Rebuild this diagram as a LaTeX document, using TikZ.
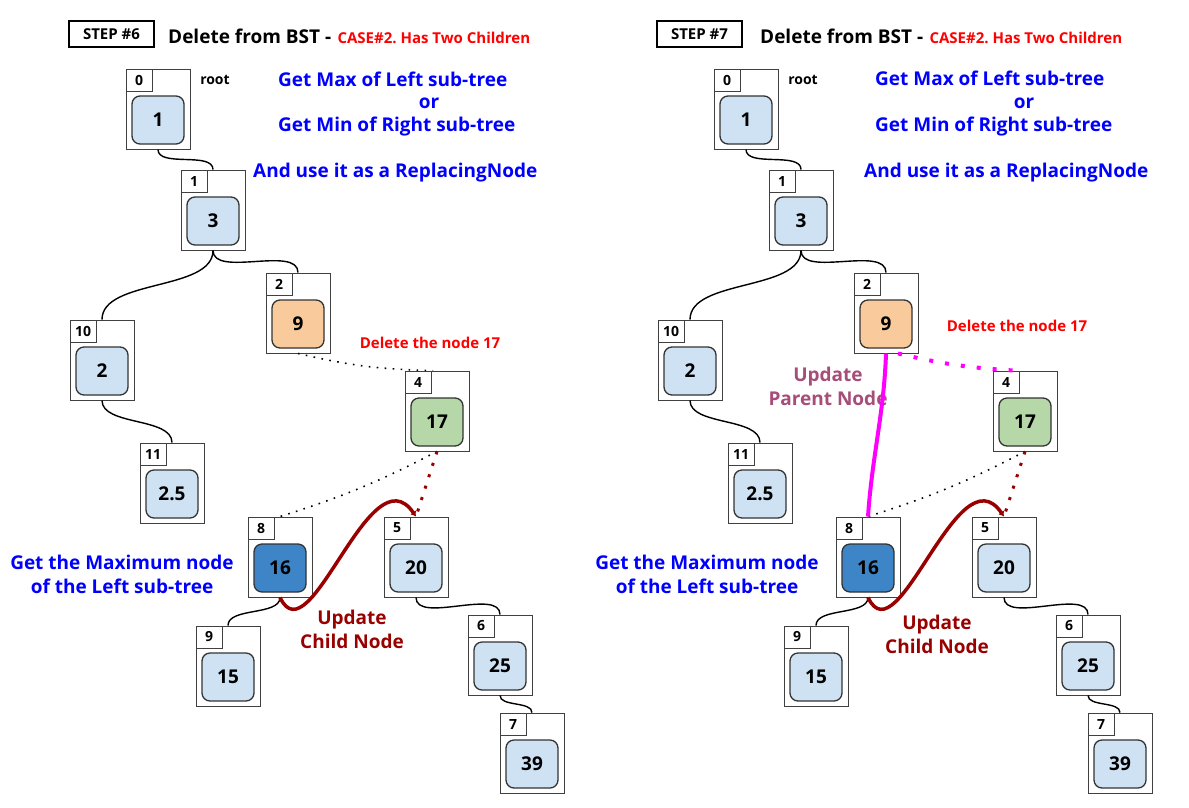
\documentclass[tikz,border=0pt]{standalone}
\usepackage{fontspec}
\setmainfont{Open Sans}
\usetikzlibrary{arrows.meta}
\frenchspacing

\definecolor{keyblue}{HTML}{CFE2F3}
\definecolor{keyorange}{HTML}{F9CB9C}
\definecolor{keygreen}{HTML}{B6D7A8}
\definecolor{keydark}{HTML}{3D85C6}
\definecolor{textblue}{HTML}{0000FF}
\definecolor{textred}{HTML}{FF0000}
\definecolor{darkred}{HTML}{990000}
\definecolor{mauve}{HTML}{A64D79}
\definecolor{pink}{HTML}{FF00FF}

\tikzset{
  treebox/.style={draw=black!75, fill=white, line width=0.9pt, minimum width=64pt, minimum height=80pt, inner sep=0pt},
  idxbox/.style={draw=black!75, fill=white, line width=0.9pt, minimum width=26pt, minimum height=22pt, inner sep=0pt, anchor=north west, font=\bfseries\fontsize{14}{14}\selectfont},
  keybox/.style={draw=black!80, line width=1.3pt, rounded corners=8pt, minimum width=52pt, minimum height=48pt, inner sep=0pt, font=\bfseries\fontsize{19}{19}\selectfont},
  link/.style={line width=1.4pt, out=-90, in=90, looseness=0.8},
  oldlink/.style={line width=1.6pt, dash pattern=on 1.6pt off 6.4pt},
  redlink/.style={darkred, line width=3pt, dash pattern=on 3pt off 9pt},
  pinklink/.style={pink, line width=4pt, dash pattern=on 4pt off 12pt},
  stepbox/.style={draw, line width=1.2pt, minimum width=85pt, minimum height=26pt, inner sep=0pt, font=\bfseries\fontsize{15}{15}\selectfont},
  bluetext/.style={text=textblue, font=\bfseries\fontsize{19}{24}\selectfont},
  redtext/.style={text=textred, font=\bfseries\fontsize{15}{15}\selectfont},
  notetext/.style={font=\bfseries\fontsize{19}{24}\selectfont, align=center}
}

% name, x, y, index, key, fill
\newcommand{\bstnode}[6]{%
  \node[treebox] (#1) at (#2,#3) {};
  \node[idxbox] at (#1.north west) {#4};
  \node[keybox, fill=#6] (#1v) at ([yshift=-11pt]#1.center) {#5};
}

\begin{document}
\begin{tikzpicture}[x=1pt,y=-1pt]
\useasboundingbox (0,0) rectangle (1189,807);

\foreach \p/\dx in {L/0,R/588}{
  \begin{scope}[xshift=\dx pt]
    \bstnode{\p0}{158}{109}{0}{1}{keyblue}
    \bstnode{\p1}{213}{210}{1}{3}{keyblue}
    \bstnode{\p2}{298}{313}{2}{9}{keyorange}
    \bstnode{\p10}{102}{360}{10}{2}{keyblue}
    \bstnode{\p4}{437}{411}{4}{17}{keygreen}
    \bstnode{\p11}{172}{483}{11}{2.5}{keyblue}
    \bstnode{\p8}{280}{557}{8}{16}{keydark}
    \bstnode{\p5}{416}{557}{5}{20}{keyblue}
    \bstnode{\p9}{228}{666}{9}{15}{keyblue}
    \bstnode{\p6}{500}{655}{6}{25}{keyblue}
    \bstnode{\p7}{532}{753}{7}{39}{keyblue}

    \draw[link] (\p0.south) to (\p1.north);
    \draw[link] (\p1.south) to (\p10.north);
    \draw[link] (\p1.south) to (\p2.north);
    \draw[link] (\p10.south) to (\p11.north);
    \draw[link] (\p8.south) to (\p9.north);
    \draw[link] (\p5.south) to (\p6.north);
    \draw[link] (\p6.south) to (\p7.north);

    \draw[oldlink] (\p4.south) to[bend left=5] (\p8.north);
    \draw[redlink] (\p4.south) -- (\p5.north);
    \draw[darkred, line width=3.5pt, -{Latex[length=5pt,width=7pt]}] (\p8.south)
      .. controls +(30,63) and +(-46,-67) .. (\p5.north);

    \node[font=\bfseries\fontsize{14}{14}\selectfont] (\p root) at (215,80) {root};
  \end{scope}
}

% step 6
\node[stepbox] (Lstep) at (111.5,34) {STEP \#6};
\node[anchor=west, inner sep=0pt, font=\bfseries\fontsize{19}{19}\selectfont] (Ltitle) at (168,36) {Delete from BST -};
\node[redtext, anchor=base west, inner sep=0pt] at ([xshift=6pt]Ltitle.base east) {CASE\#2. Has Two Children};
\node[bluetext, anchor=west, inner sep=0pt] at (278,79) {Get Max of Left sub-tree};
\node[bluetext] at (429,103) {or};
\node[bluetext, anchor=west, inner sep=0pt] at (278,127) {Get Min of Right sub-tree};
\node[bluetext, anchor=west, inner sep=0pt] at (253,173) {And use it as a ReplacingNode};
\node[redtext] at (430,343) {Delete the node 17};
\node[bluetext, align=center] at (122,574) {Get the Maximum node\\of the Left sub-tree};
\node[notetext, text=darkred] at (352,629) {Update\\Child Node};
\draw[oldlink] (L2.south) to[bend right=6] ([xshift=-4pt]L4.north);

% step 7
\node[stepbox] (Rstep) at (699.5,34) {STEP \#7};
\node[anchor=west, inner sep=0pt, font=\bfseries\fontsize{19}{19}\selectfont] (Rtitle) at (760,36) {Delete from BST -};
\node[redtext, anchor=base west, inner sep=0pt] at ([xshift=6pt]Rtitle.base east) {CASE\#2. Has Two Children};
\node[bluetext, anchor=west, inner sep=0pt] at (875,78) {Get Max of Left sub-tree};
\node[bluetext] at (1024,103) {or};
\node[bluetext, anchor=west, inner sep=0pt] at (875,127) {Get Min of Right sub-tree};
\node[bluetext, anchor=west, inner sep=0pt] at (864,173) {And use it as a ReplacingNode};
\node[redtext] at (1017,326) {Delete the node 17};
\node[bluetext, align=center] at (707,574) {Get the Maximum node\\of the Left sub-tree};
\node[notetext, text=darkred] at (937,634) {Update\\Child Node};
\node[notetext, text=mauve] at (828,386) {Update\\Parent Node};
\draw[pinklink] ([xshift=12pt]R2.south) to[bend right=5] ([xshift=-10pt]R4.north);
\draw[pink, line width=4pt] (R2.south) .. controls +(-2,60) and +(4,-60) .. (R8.north);
\end{tikzpicture}
\end{document}
